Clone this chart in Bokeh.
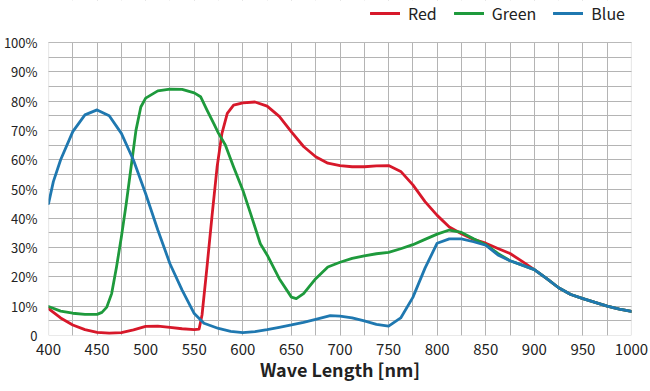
from bokeh.plotting import figure
from bokeh.models import (Range1d, SingleIntervalTicker, Legend, LegendItem,
                          BoxAnnotation)
from bokeh.embed import file_html
from bokeh.resources import INLINE

# ---- data ----
red_nm = [400, 412.5, 425, 437.5, 450, 462.5, 475, 487.5, 500, 512.5, 525, 537.5,
          550, 555, 558, 563, 568.5, 573.5, 578.5, 584, 590.5, 600, 612.5, 625,
          637.5, 650, 662.5, 675, 687.5, 700, 712.5, 725, 737.5, 750, 762.5, 775,
          787.5, 800, 812.5, 825, 837.5, 850, 862.5, 875, 887.5, 900, 912.5, 925,
          937.5, 950, 962.5, 975, 987.5, 1000]
red_pct = [9.2, 6.0, 3.6, 2.0, 1.1, 0.8, 1.0, 1.9, 3.1, 3.2, 2.8, 2.3,
           2.0, 2.2, 7.0, 23.0, 41.5, 57.5, 69.0, 75.8, 78.6, 79.4, 79.7, 78.3,
           74.8, 69.5, 64.5, 61.0, 58.8, 58.0, 57.6, 57.6, 57.9, 58.0, 56.0, 51.4,
           45.7, 41.0, 37.0, 34.7, 32.8, 31.5, 29.7, 28.0, 25.3, 22.5, 19.5, 16.3,
           14.0, 12.6, 11.3, 10.0, 9.0, 8.2]

green_nm = [400, 412.5, 425, 437.5, 450, 455, 460, 465, 470, 475, 480, 485, 490,
            495, 500, 512.5, 525, 537.5, 550, 556.5, 563, 570, 575, 582, 590.5,
            600, 608, 618, 625, 637.5, 650, 655, 662.5, 675, 687.5, 700, 712.5,
            725, 737.5, 750, 762.5, 775, 787.5, 800, 812.5, 825, 837.5, 850,
            862.5, 875, 887.5, 900, 912.5, 925, 937.5, 950, 962.5, 975, 987.5, 1000]
green_pct = [9.9, 8.3, 7.6, 7.2, 7.2, 7.9, 9.7, 14.3, 23.4, 33.6, 45.0, 57.5, 70.0,
             78.0, 81.0, 83.5, 84.1, 84.0, 82.8, 81.5, 77.0, 72.4, 69.0, 65.0, 57.5,
             49.6, 41.6, 31.3, 27.5, 19.4, 13.1, 12.6, 14.3, 19.4, 23.4, 25.0, 26.3,
             27.2, 27.9, 28.4, 29.6, 31.0, 32.8, 34.6, 36.0, 35.2, 33.0, 31.0,
             28.0, 25.5, 24.0, 22.5, 19.5, 16.3, 14.0, 12.6, 11.3, 10.0, 9.0, 8.2]

blue_nm = [400, 405, 412.5, 425, 437.5, 450, 462.5, 475, 487.5, 500, 512.5, 525,
           537.5, 550, 560, 575, 587.5, 600, 612.5, 625, 637.5, 650, 662.5, 675,
           690, 700, 712.5, 725, 737.5, 750, 762.5, 775, 787.5, 800, 812.5, 825,
           837.5, 850, 862.5, 875, 887.5, 900, 912.5, 925, 937.5, 950, 962.5, 975,
           987.5, 1000]
blue_pct = [45.0, 52.5, 60.0, 69.6, 75.3, 77.0, 75.0, 69.0, 59.8, 48.4, 36.0, 24.5,
            15.5, 7.5, 4.2, 2.4, 1.4, 1.0, 1.3, 2.0, 2.8, 3.6, 4.5, 5.5,
            6.8, 6.6, 6.0, 5.0, 3.8, 3.2, 6.0, 13.0, 23.0, 31.5, 33.0, 33.0,
            32.0, 30.8, 27.5, 25.5, 24.0, 22.5, 19.5, 16.3, 14.0, 12.6, 11.3, 10.0,
            9.0, 8.2]

x_ticks = [400, 450, 500, 550, 600, 650, 700, 750, 800, 850, 900, 950, 1000]
y_ticks = [0, 10, 20, 30, 40, 50, 60, 70, 80, 90, 100]
y_labels = ["0", "10%", "20%", "30%", "40%", "50%", "60%", "70%", "80%", "90%", "100%"]
series_names = ["Red", "Green", "Blue"]
series_colors = ["#d7182a", "#1e9a3c", "#1f78b0"]

FONT = "Noto Sans CJK JP"
X_MIN, X_MAX, Y_MAX = 400, 1000, 100

# frame reaches the top of the page so the legend can sit above the 100% line;
# 335 px of frame for 293 px per 100 %
p = figure(width=650, height=391, output_backend="svg",
           toolbar_location=None,
           x_range=Range1d(X_MIN, X_MAX), y_range=Range1d(0, Y_MAX * 335 / 293),
           min_border_left=48, min_border_right=19, min_border_top=0,
           min_border_bottom=56)
p.background_fill_color = "white"
p.border_fill_color = "white"
p.outline_line_color = None

p.xaxis.ticker = SingleIntervalTicker(interval=50, num_minor_ticks=2)
p.yaxis.ticker = SingleIntervalTicker(interval=10, num_minor_ticks=2)
p.yaxis.bounds = (0, Y_MAX)
p.yaxis.major_label_overrides = {t: l for t, l in zip(y_ticks, y_labels)}

for ax in (p.xaxis, p.yaxis):
    ax.axis_line_color = None
    ax.major_tick_line_color = None
    ax.minor_tick_line_color = None
    ax.major_tick_out = 0
    ax.major_tick_in = 0
    ax.minor_tick_out = 0
    ax.minor_tick_in = 0
    ax.major_label_text_font = FONT
    ax.major_label_text_color = "#222222"

p.xaxis.major_label_text_font_size = "15px"
p.yaxis.major_label_text_font_size = "13px"
p.xaxis.major_label_standoff = 8
p.yaxis.major_label_standoff = 11

p.xaxis.axis_label = "Wave Length [nm]"
p.xaxis.axis_label_text_font = FONT
p.xaxis.axis_label_text_font_size = "18px"
p.xaxis.axis_label_text_font_style = "bold"
p.xaxis.axis_label_text_color = "#222222"
p.xaxis.axis_label_standoff = -2

for g in (p.xgrid, p.ygrid):
    g.grid_line_color = "#b4b4b4"
    g.grid_line_width = 1
    g.minor_grid_line_color = "#b4b4b4"
    g.minor_grid_line_width = 1
p.ygrid.bounds = (0, Y_MAX)

renderers = []
for nm, pct, color in zip([red_nm, green_nm, blue_nm], [red_pct, green_pct, blue_pct],
                          series_colors):
    r = p.line(nm, pct, line_color=color, line_width=2.8, line_join="round",
               line_cap="round")
    renderers.append(r)

# white area above the 100% line (hides the vertical grid there)
p.add_layout(BoxAnnotation(bottom=Y_MAX, fill_color="white", fill_alpha=1,
                           line_color=None))
# plot border
p.add_layout(BoxAnnotation(left=X_MIN, right=X_MAX, bottom=0, top=Y_MAX,
                           fill_alpha=0, line_color="#6e6e6e", line_width=1.2))

legend = Legend(items=[LegendItem(label=n, renderers=[r])
                       for n, r in zip(series_names, renderers)],
                orientation="horizontal", location=(322, 310),
                label_text_font=FONT, label_text_font_size="16px",
                label_text_color="#222222", label_height=20,
                glyph_width=30, glyph_height=20, label_standoff=8, spacing=17,
                padding=0, margin=0, border_line_color=None,
                background_fill_alpha=0)
p.add_layout(legend, "center")

open("out.html", "w").write(file_html(p, INLINE))
